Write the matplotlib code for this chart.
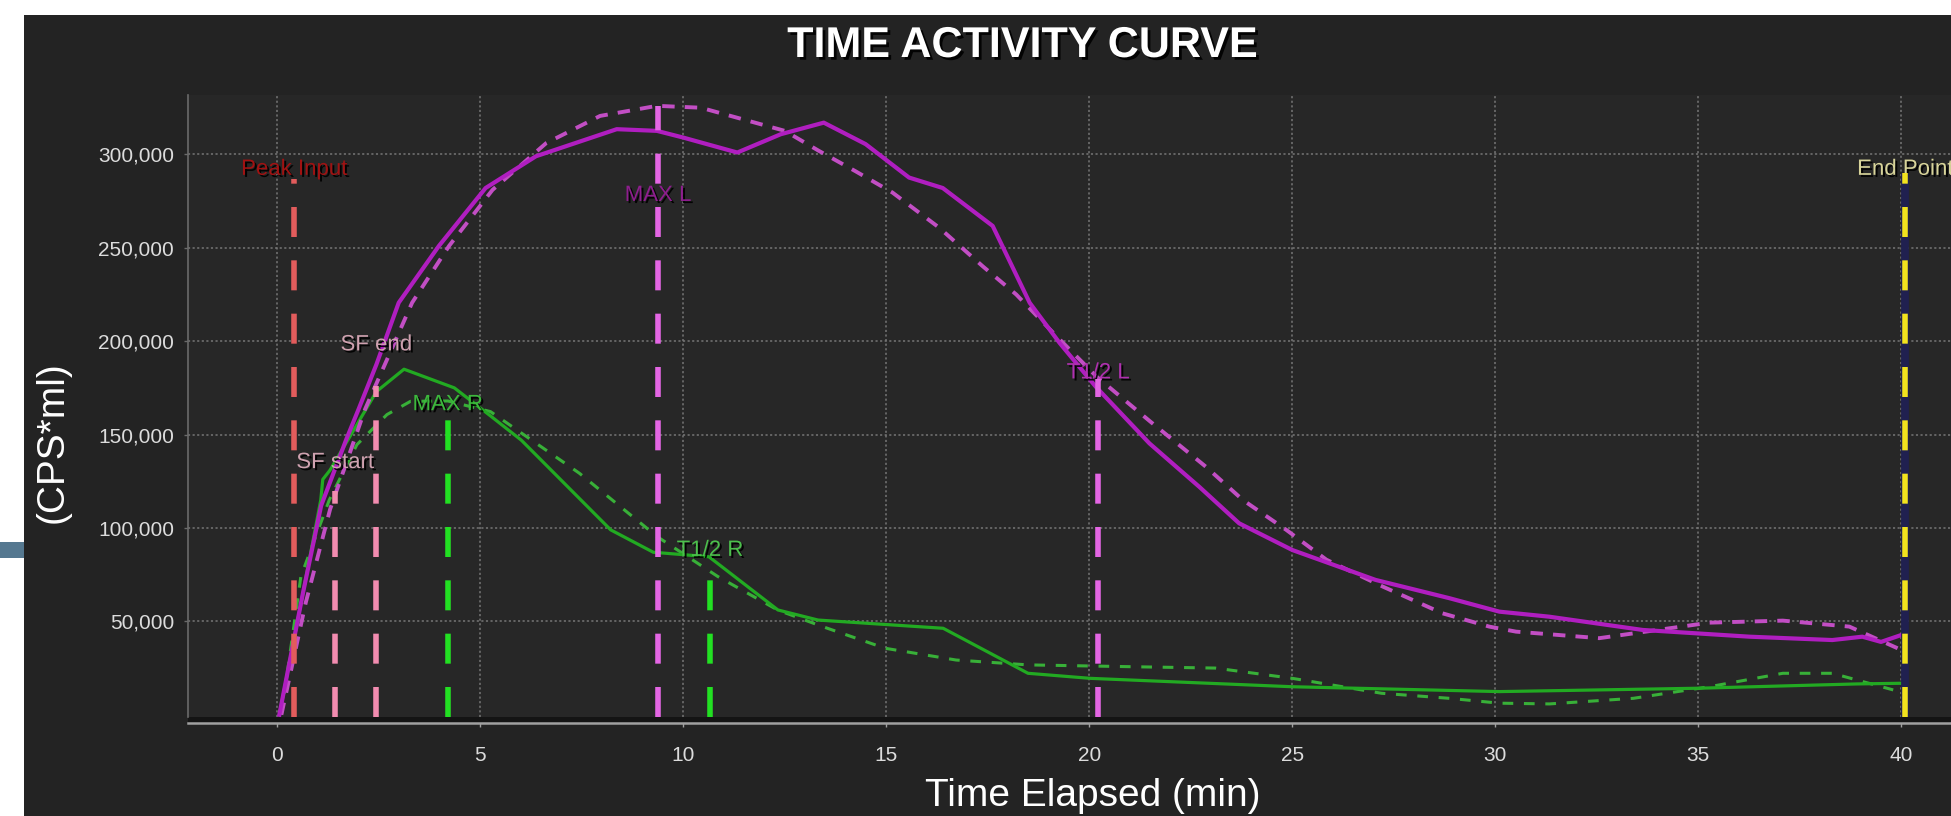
import matplotlib
matplotlib.use("Agg")
import matplotlib.pyplot as plt
from matplotlib.patches import Rectangle
from matplotlib.ticker import FuncFormatter
import matplotlib.patheffects as pe

plt.rcParams['font.family'] = ['Liberation Sans', 'DejaVu Sans']

# ---- data -------------------------------------------------------------
# left kidney, measured counts
left_t = [0.05, 0.63, 1.08, 1.70, 2.0, 2.44, 2.99, 3.98, 5.13, 6.37, 8.36, 9.35,
          10.0, 11.33, 12.4, 13.46, 14.49, 15.56, 16.39, 17.62, 18.53, 19.27,
          20.16, 21.48, 22.71, 23.69, 25.0, 27.05, 28.87, 30.1, 31.33, 33.63,
          36.26, 38.3, 39.04, 39.5, 40.12]
left_cps = [0, 65000, 112000, 147500, 163500, 187500, 220600, 251000, 282000,
            299000, 313500, 312600, 309000, 301000, 310800, 317000, 305500,
            287600, 282000, 261700, 220600, 199000, 175600, 145300, 122000,
            102500, 88200, 72200, 62400, 55200, 52500, 45400, 41800, 40000,
            41800, 39000, 43600]

# left kidney, fitted curve
left_fit_t = [0.1, 0.7, 1.3, 2.16, 3.32, 4.23, 5.3, 6.62, 7.95, 9.35, 10.43,
              12.5, 13.33, 14.24, 15.15, 16.3, 17.38, 18.2, 19.19, 20.18, 21.5,
              22.87, 23.78, 24.85, 25.84, 27.23, 28.7, 29.85, 30.51, 32.56,
              35.27, 37.08, 38.72, 40.0]
left_fit = [0, 60000, 110000, 163500, 220600, 251000, 281000, 306000, 320600,
            326000, 325000, 312600, 302000, 291000, 279600, 260800, 240000,
            225000, 202700, 181000, 157000, 132800, 115000, 99000, 83000,
            68600, 54300, 47200, 44500, 41000, 49300, 50400, 47200, 34700]

# right kidney, measured counts
right_t = [0.05, 0.63, 1.07, 1.12, 1.3, 2.44, 3.12, 4.36, 5.25, 6.01, 8.21,
           9.26, 10.63, 12.33, 13.32, 16.4, 18.49, 20.02, 25.0, 30.1, 35.0,
           38.9, 40.12]
right_cps = [0, 65000, 115000, 126000, 131000, 173000, 185000, 175000, 160000,
             147000, 99000, 87000, 84600, 56100, 50700, 46300, 22200, 19500,
             15000, 12400, 14200, 16500, 16900]

# right kidney, fitted curve
right_fit_t = [0.1, 0.58, 1.28, 1.96, 2.7, 3.28, 4.2, 5.25, 7.44, 9.36, 10.85,
               12.33, 13.43, 14.97, 16.72, 18.49, 21.1, 23.1, 25.0, 27.2,
               28.87, 30.1, 31.33, 33.4, 35.27, 37.08, 38.3, 39.8]
right_fit = [0, 74000, 115000, 144600, 160700, 167800, 168000, 162300, 129300,
             95300, 74000, 56000, 47200, 35600, 29300, 26700, 25700, 25000,
             19500, 11500, 8800, 6200, 5800, 8800, 15000, 22200, 22200, 13300]

# event markers: name, time, top of the marker line, label height
marker_names = ['Peak Input', 'SF start', 'SF end', 'MAX R', 'MAX L',
                'T1/2 R', 'T1/2 L', 'End Point']
marker_times = [0.42, 1.43, 2.44, 4.2, 9.38, 10.66, 20.22, 40.1]
marker_tops = [287000, 120000, 176000, 161000, 326000, 80000, 180000, 290000]
marker_label_y = [292000, 135000, 198000, 166000, 278000, 88000, 183000, 292000]
marker_line_colors = ['#e25c5c', '#f28cb0', '#f28cb0', '#22e022', '#e466e4',
                      '#22e022', '#e466e4', '#f2e21e']
marker_text_colors = ['#a01212', '#cfa2b0', '#cfa2b0', '#3cb83c', '#8e1e8e',
                      '#4cc04c', '#b030b0', '#d8d49a']

x_ticks = [0, 5, 10, 15, 20, 25, 30, 35, 40]
y_ticks = [50000, 100000, 150000, 200000, 250000, 300000]

# ---- figure -------------------------------------------------------------
W, H = 1951, 816
fig = plt.figure(figsize=(W / 100, H / 100), dpi=100)
fig.patch.set_facecolor('white')


def fx(px):
    return px / W


def fy(py):
    return 1 - py / H


# dark panel and side tab
fig.add_artist(Rectangle((fx(24), 0), 1, fy(15), transform=fig.transFigure,
                         facecolor='#232323', edgecolor='none', zorder=0))
fig.add_artist(Rectangle((0, fy(558)), fx(24), 16 / H, transform=fig.transFigure,
                         facecolor='#557890', edgecolor='none', zorder=0))
# dark strip between plot area and x axis line
fig.add_artist(Rectangle((fx(188), fy(723)), 1, 6 / H, transform=fig.transFigure,
                         facecolor='#141414', edgecolor='none', zorder=0))

xmin, xmax = -2.2, 43.0
ymin, ymax = -1200, 331800
ax_left, ax_bottom = fx(188), fy(717)
ax_w = (xmax - xmin) * 40.6 / W
ax_h = (717 - 95) / H
ax = fig.add_axes([ax_left, ax_bottom, ax_w, ax_h])
ax.set_facecolor('#272727')
ax.set_xlim(xmin, xmax)
ax.set_ylim(ymin, ymax)

for s in ['top', 'right']:
    ax.spines[s].set_visible(False)
ax.spines['left'].set_color('#6a6a6a')
ax.spines['left'].set_linewidth(1.2)
ax.spines['bottom'].set_color('#a0a0a0')
ax.spines['bottom'].set_linewidth(1.8)
ax.spines['bottom'].set_position(('outward', 4.3))

ax.set_xticks(x_ticks)
ax.set_yticks(y_ticks)
ax.yaxis.set_major_formatter(FuncFormatter(lambda v, p: f"{int(v):,}"))
ax.tick_params(axis='both', colors='#dcdcdc', labelsize=15, length=3,
               width=1, labelcolor='#dcdcdc')
ax.tick_params(axis='x', pad=13.5, color='#a0a0a0')
ax.tick_params(axis='y', pad=7, color='#6a6a6a')
ax.grid(True, color='#767676', linestyle=(0, (1.4, 1.6)), linewidth=1.1)
ax.set_axisbelow(True)

# curves
ax.plot(right_fit_t, right_fit, color='#38b038', lw=2.2,
        linestyle=(0, (3.5, 3.5)), zorder=3)
ax.plot(right_t, right_cps, color='#22aa22', lw=2.3, zorder=3)
ax.plot(left_fit_t, left_fit, color='#c24ec4', lw=2.8,
        linestyle=(0, (3.2, 2.6)), zorder=4)
ax.plot(left_t, left_cps, color='#b01ec0', lw=3.0, zorder=4)

# marker labels
shadow = [pe.withSimplePatchShadow(offset=(1.5, -1.5), shadow_rgbFace='black',
                                   alpha=0.9)]
for name, t, ly, c in zip(marker_names, marker_times, marker_label_y,
                          marker_text_colors):
    ax.text(t, ly, name, color=c, fontsize=16, ha='center', va='center',
            zorder=5, path_effects=shadow, clip_on=False)

# marker lines, dash pattern anchored at the bottom of the plot
for name, t, top, c in zip(marker_names, marker_times, marker_tops,
                           marker_line_colors):
    if name == 'End Point':
        ax.plot([t, t], [ymin, top], color='#202050', lw=5.6,
                solid_capstyle='butt', zorder=6)
    ax.plot([t, t], [ymin, top], color=c, lw=4.0,
            linestyle=(0, (5.4, 4.2)), solid_capstyle='butt',
            dash_capstyle='butt', zorder=7)

# titles
fig.text(fx(1022), fy(46), 'TIME ACTIVITY CURVE', ha='center', va='center',
         fontsize=31, fontweight='bold', color='white',
         path_effects=[pe.withSimplePatchShadow(offset=(2, -2),
                                                shadow_rgbFace='black',
                                                alpha=0.9)])
fig.text(fx(1093), fy(806), 'Time Elapsed (min)', ha='center', va='baseline',
         fontsize=28, color='white')
fig.text(fx(53), fy(442), '(CPS*ml)', ha='center', va='center', rotation=90,
         fontsize=28, color='white')

fig.savefig('out.png', dpi=100, facecolor=fig.get_facecolor())
